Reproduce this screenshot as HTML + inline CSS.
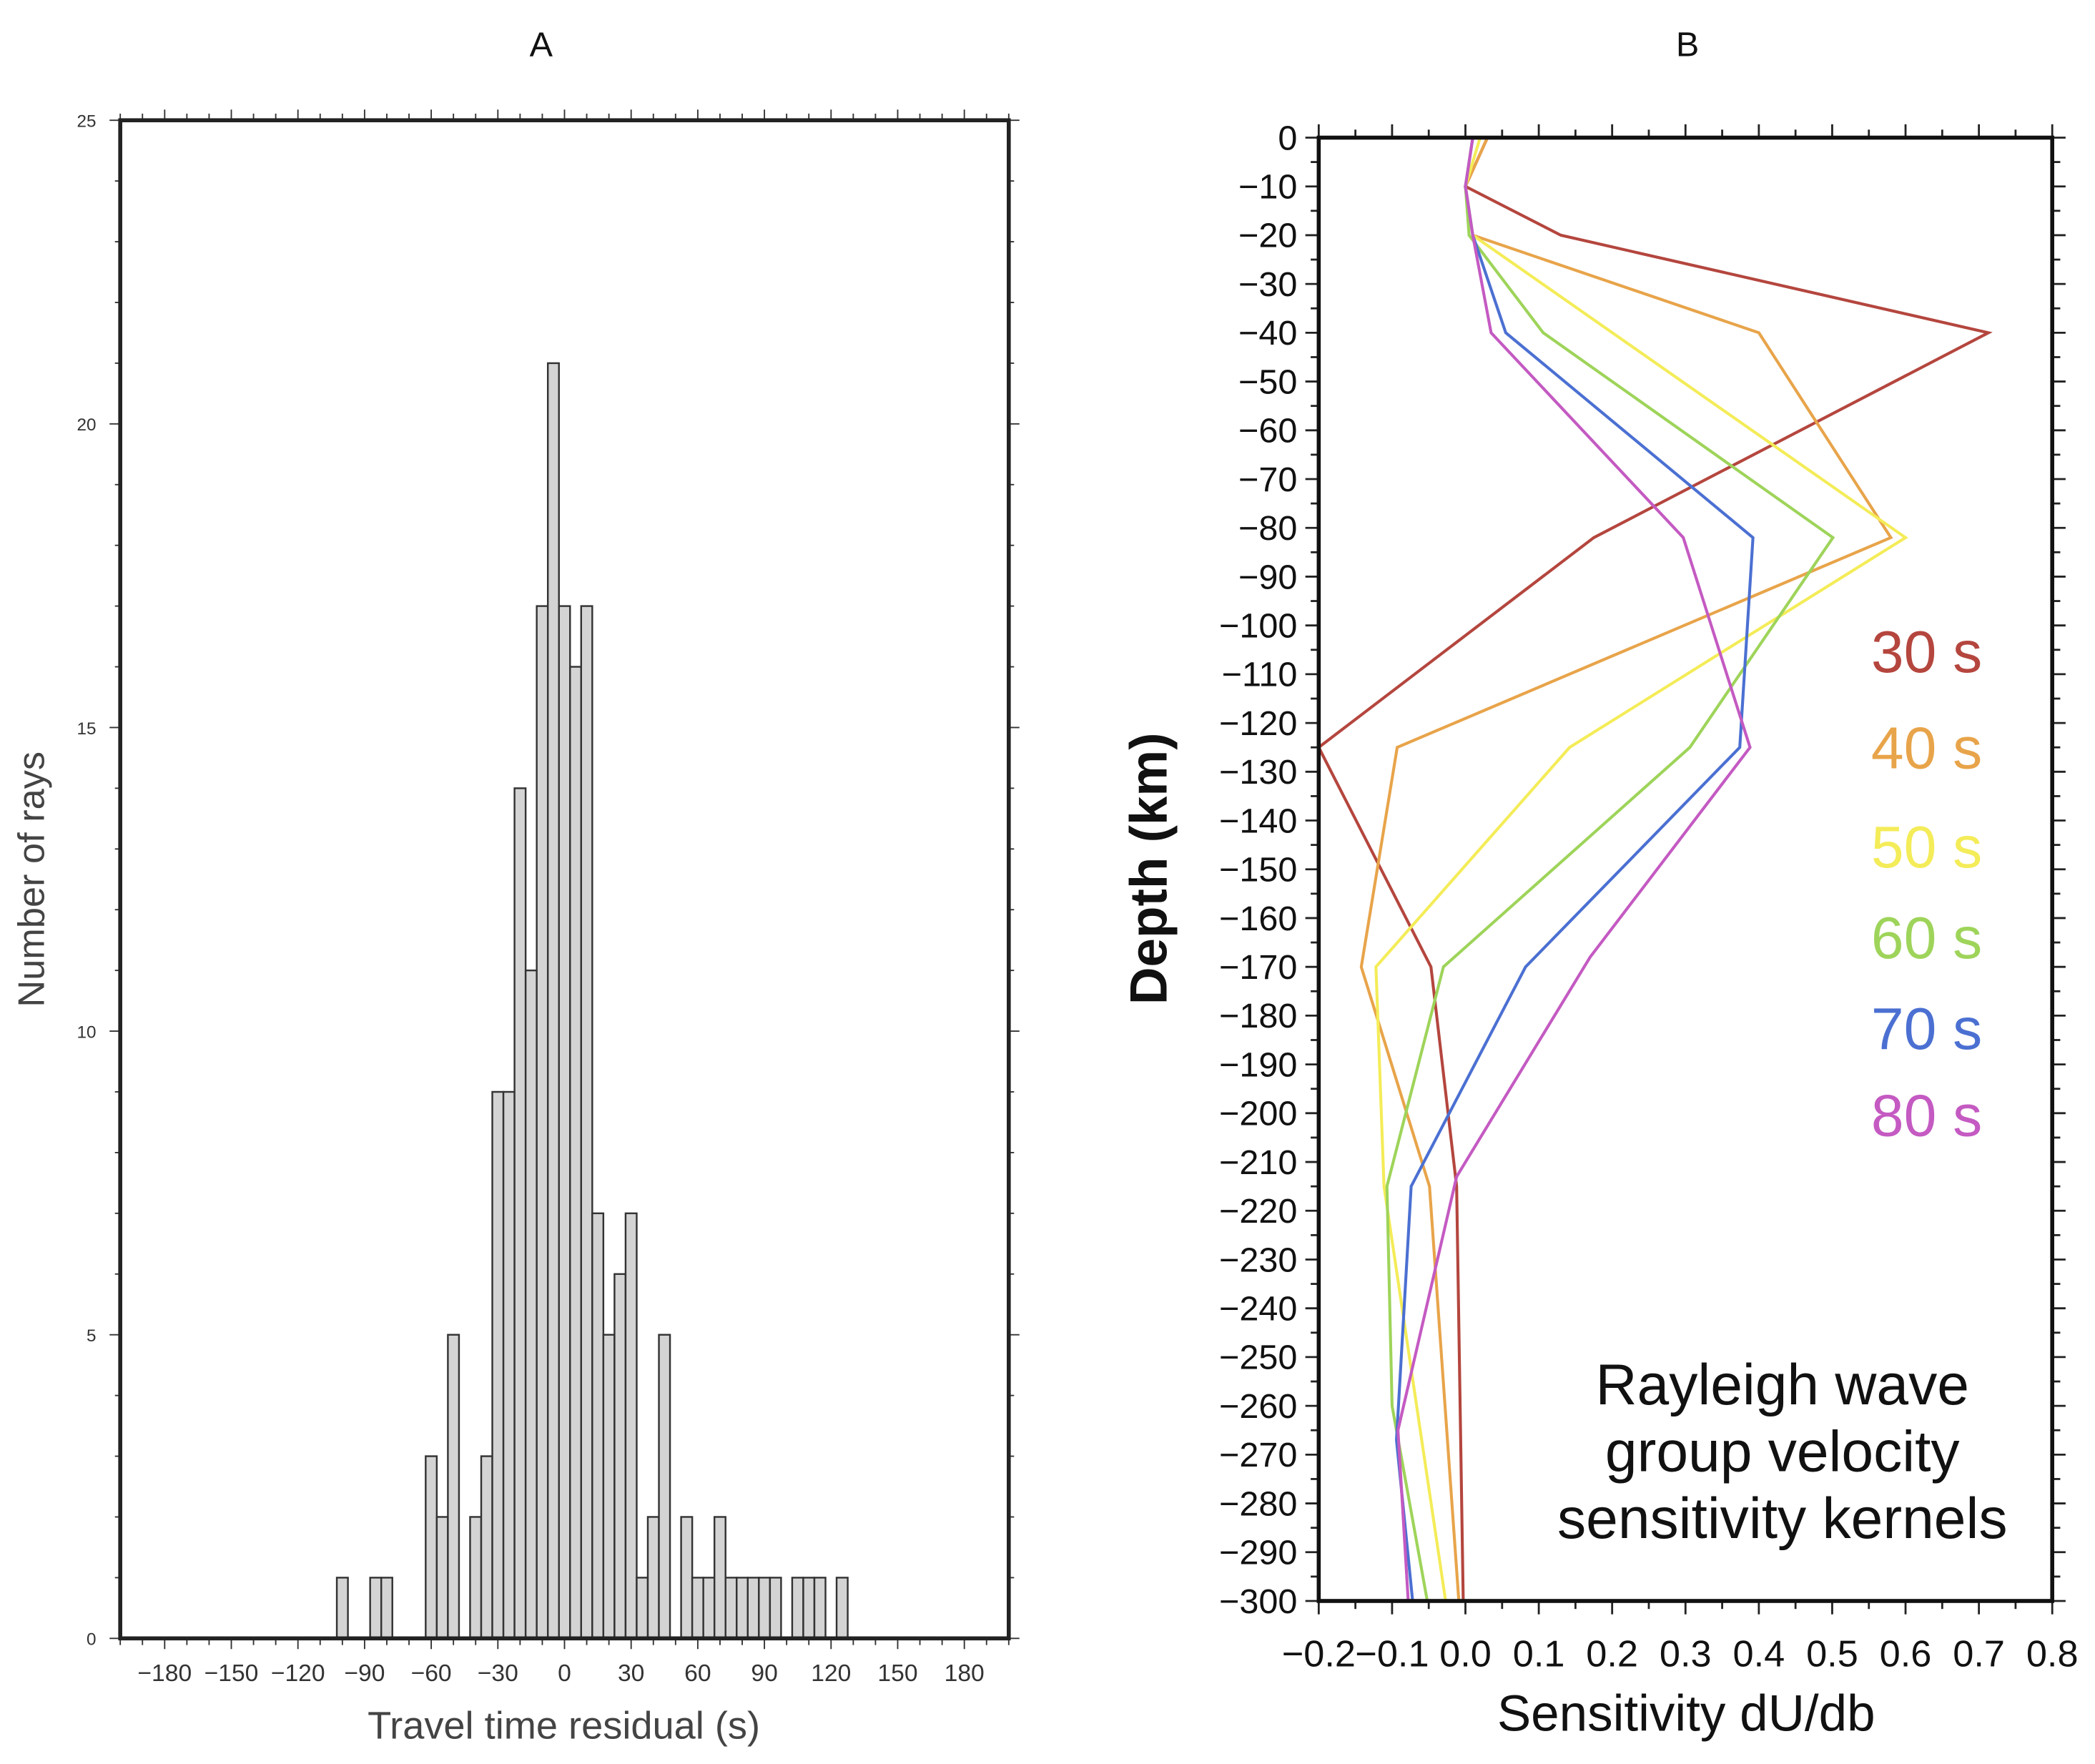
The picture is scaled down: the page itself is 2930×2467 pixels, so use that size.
<!DOCTYPE html>
<html><head><meta charset="utf-8"><style>
html,body{margin:0;padding:0;background:#fff}
svg{display:block}
text{font-family:"Liberation Sans",sans-serif}
</style></head><body>
<svg id="fig" width="2930" height="2467" viewBox="0 0 1568 1320" preserveAspectRatio="none" xmlns="http://www.w3.org/2000/svg">
<g id="pa"></g>
<g id="pb"></g>
</svg>
<script>
// Panel A data
const binCenters = [-100,-85,-80,-60,-55,-50,-40,-35,-30,-25,-20,-15,-10,-5,0,5,10,15,20,25,30,35,40,45,55,60,65,70,75,80,85,90,95,105,110,115,125];
const binCounts  = [1,1,1,3,2,5,2,3,9,9,14,11,17,21,17,16,17,7,5,6,7,1,2,5,2,1,1,2,1,1,1,1,1,1,1,1,1];
const xTicksA = [-180,-150,-120,-90,-60,-30,0,30,60,90,120,150,180];
const yTicksA = [0,5,10,15,20,25];
// Panel B data
const depthTicks = [0,-10,-20,-30,-40,-50,-60,-70,-80,-90,-100,-110,-120,-130,-140,-150,-160,-170,-180,-190,-200,-210,-220,-230,-240,-250,-260,-270,-280,-290,-300];
const sensTicks = [-0.2,-0.1,0.0,0.1,0.2,0.3,0.4,0.5,0.6,0.7,0.8];
const periods = ["30 s","40 s","50 s","60 s","70 s","80 s"];
const k30 = [[0.03,0],[0.0,-10],[0.13,-20],[0.713,-40],[0.175,-82],[-0.2,-125],[-0.047,-170],[-0.012,-215],[-0.003,-300]];
const k40 = [[0.03,0],[0.0,-10],[0.01,-20],[0.4,-40],[0.58,-82],[-0.093,-125],[-0.142,-170],[-0.049,-215],[-0.009,-300]];
const k50 = [[0.02,0],[0.0,-10],[0.01,-20],[0.6,-82],[0.142,-125],[-0.122,-170],[-0.111,-215],[-0.027,-300]];
const k60 = [[0.01,0],[0.0,-10],[0.005,-20],[0.106,-40],[0.501,-82],[0.306,-125],[-0.03,-170],[-0.107,-215],[-0.1,-260],[-0.052,-300]];
const k70 = [[0.01,0],[0.0,-10],[0.01,-20],[0.055,-40],[0.392,-82],[0.374,-125],[0.082,-170],[-0.074,-215],[-0.094,-267],[-0.072,-300]];
const k80 = [[0.01,0],[0.0,-10],[0.01,-20],[0.035,-40],[0.297,-82],[0.388,-125],[0.17,-168],[-0.012,-213],[-0.092,-265],[-0.078,-300]];

const NS="http://www.w3.org/2000/svg";
function mk(parent,tag,attrs,txt){const e=document.createElementNS(NS,tag);for(const k in attrs)e.setAttribute(k,attrs[k]);if(txt!==undefined)e.textContent=txt;parent.appendChild(e);return e;}

// ---------- Panel A ----------
const pa=document.getElementById('pa');
const AL=90,AR=755,AT=90,AB=1226;
const ax=v=>AL+(v+200)/400*(AR-AL);
const ay=v=>AB-v/25*(AB-AT);
let t=mk(pa,'text',{x:405,y:42,'text-anchor':'middle','font-size':26,fill:'#111'},'A');


for(let i=0;i<binCenters.length;i++){
  const r=mk(pa,'rect',{x:ax(binCenters[i]-2.5),y:ay(binCounts[i]),width:ax(5)-ax(0),height:ay(0)-ay(binCounts[i]),fill:'#d4d4d4',stroke:'#333','stroke-width':1.3});
  
  
}
for(let v=-200;v<=200;v+=10){
  const len=(v%30===0)?8:5;
  mk(pa,'line',{x1:ax(v),x2:ax(v),y1:AB,y2:AB+len,stroke:'#333','stroke-width':1});
  mk(pa,'line',{x1:ax(v),x2:ax(v),y1:AT,y2:AT-len,stroke:'#333','stroke-width':1});
}
xTicksA.forEach(v=>{
  const tl=mk(pa,'text',{x:ax(v),y:AB+32,'text-anchor':'middle','font-size':18,fill:'#333'},v<0?'\u2212'+(-v):String(v));
  
  
});
for(let v=0;v<=25;v+=1){
  const len=(v%5===0)?8:4;
  mk(pa,'line',{x1:AL,x2:AL-len,y1:ay(v),y2:ay(v),stroke:'#333','stroke-width':1});
  mk(pa,'line',{x1:AR,x2:AR+len,y1:ay(v),y2:ay(v),stroke:'#333','stroke-width':1});
}
yTicksA.forEach(v=>{
  const tl=mk(pa,'text',{x:AL-18,y:ay(v)+5,'text-anchor':'end','font-size':13,fill:'#333'},String(v));
  
  
});
let fa=mk(pa,'rect',{x:AL,y:AT,width:AR-AL,height:AB-AT,fill:'none',stroke:'#222','stroke-width':3});


t=mk(pa,'text',{x:422,y:1301,'text-anchor':'middle','font-size':29,fill:'#444'},'Travel time residual (s)');


t=mk(pa,'text',{x:0,y:0,'text-anchor':'middle','font-size':28,fill:'#444',transform:'translate(33,658) rotate(-90)'},'Number of rays');



// ---------- Panel B ----------
const pb=document.getElementById('pb');
const BL=987,BR=1536,BT=103,BB=1198;
const bx=v=>BL+(v+0.2)/1.0*(BR-BL);
const by=d=>BT+(-d)/300*(BB-BT);
t=mk(pb,'text',{x:1263,y:42,'text-anchor':'middle','font-size':26,fill:'#111'},'B');


const colors=['#b4463e','#e8a44a','#f4ec58','#9ed45a','#4b70d2','#c45ac2'];
[k30,k40,k50,k60,k70,k80].forEach((k,i)=>{
  const p=mk(pb,'polyline',{points:k.map(q=>bx(q[0])+','+by(q[1])).join(' '),fill:'none',stroke:colors[i],'stroke-width':2.2,'stroke-linejoin':'miter'});
  
  
});
for(let d=0;d>=-300;d-=5){
  const major=(d%10===0);
  mk(pb,'line',{x1:BL,x2:BL-(major?10:6),y1:by(d),y2:by(d),stroke:'#222','stroke-width':1.5});
  mk(pb,'line',{x1:BR,x2:BR+(major?10:6),y1:by(d),y2:by(d),stroke:'#222','stroke-width':1.5});
}
depthTicks.forEach(d=>{
  const tl=mk(pb,'text',{x:BL-16,y:by(d)+9,'text-anchor':'end','font-size':26,fill:'#111'},d<0?'\u2212'+(-d):String(d));
  
  
});
for(let s=-0.2;s<=0.8001;s+=0.05){
  const major=Math.abs(Math.round(s*10)-s*10)<1e-6;
  mk(pb,'line',{x1:bx(s),x2:bx(s),y1:BB,y2:BB+(major?10:6),stroke:'#222','stroke-width':1.5});
  mk(pb,'line',{x1:bx(s),x2:bx(s),y1:BT,y2:BT-(major?10:6),stroke:'#222','stroke-width':1.5});
}
sensTicks.forEach(s=>{
  const lab=(s<0?'\u2212':'')+Math.abs(s).toFixed(1);
  const tl=mk(pb,'text',{x:bx(s),y:BB+49,'text-anchor':'middle','font-size':28,fill:'#111'},lab);
  
  
});
let fb=mk(pb,'rect',{x:BL,y:BT,width:BR-BL,height:BB-BT,fill:'none',stroke:'#111','stroke-width':3});


t=mk(pb,'text',{x:1262,y:1295,'text-anchor':'middle','font-size':38,fill:'#111'},'Sensitivity dU/db');


t=mk(pb,'text',{x:0,y:0,'text-anchor':'middle','font-size':39,'font-weight':'bold',fill:'#111',transform:'translate(873,650) rotate(-90)'},'Depth (km)');


const legY=[503,575,649,717,785,850];
periods.forEach((p,i)=>{
  const lt=mk(pb,'text',{x:1442,y:legY[i],'text-anchor':'middle','font-size':44,fill:colors[i]},p);
  
  
});
['Rayleigh wave','group velocity','sensitivity kernels'].forEach((s,i)=>{
  const nt=mk(pb,'text',{x:1334,y:1051+i*50,'text-anchor':'middle','font-size':43,fill:'#111'},s);
  
  
});
</script>
</body></html>
